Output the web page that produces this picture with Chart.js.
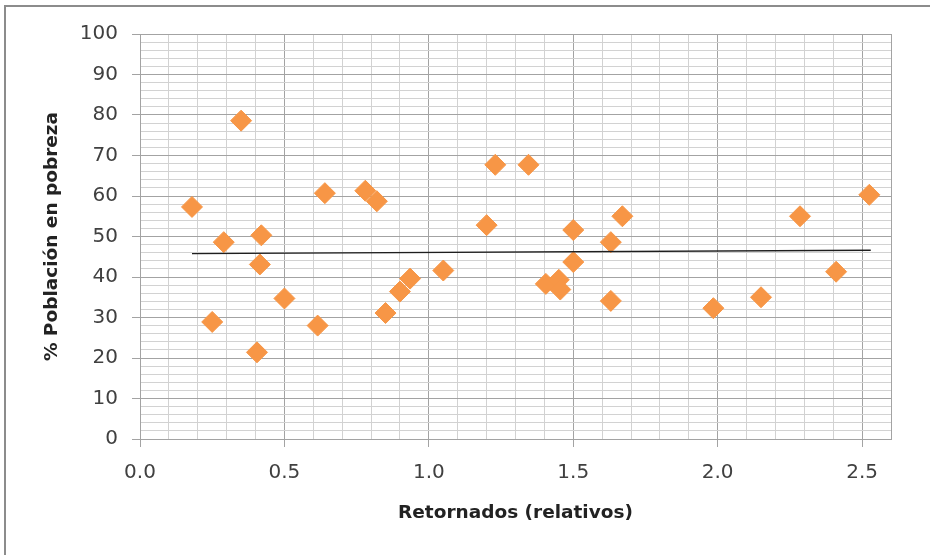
<!DOCTYPE html>
<html lang="es">
<head>
<meta charset="utf-8">
<title>Retornados y pobreza</title>
<script src="https://cdn.jsdelivr.net/npm/chart.js@4.4.1/dist/chart.umd.min.js"></script>
<style>
  html, body { margin: 0; padding: 0; background: #fff; overflow: hidden; }
  .frame {
    position: absolute; left: 4px; top: 5px; width: 1000px; height: 1000px;
    border-left: 2px solid #8c8c8c; border-top: 2px solid #8c8c8c;
  }
  #chart { position: absolute; left: 0; top: 0; }
</style>
</head>
<body>
<div class="frame"></div>
<canvas id="chart" width="930" height="555"></canvas>
<script>
// retornados relativos y % de población en pobreza, un punto por municipio
const retornados = [0.18, 0.25, 0.29, 0.35, 0.405, 0.415, 0.42, 0.50, 0.615, 0.64,
                    0.78, 0.82, 0.85, 0.90, 0.935, 1.05, 1.20, 1.23, 1.345, 1.405,
                    1.45, 1.455, 1.50, 1.50, 1.63, 1.63, 1.67, 1.985, 2.15, 2.285,
                    2.41, 2.525];
const pobreza = [57.3, 28.9, 48.6, 78.6, 21.4, 43.1, 50.3, 34.7, 28.0, 60.7,
                 61.3, 58.7, 31.1, 36.4, 39.6, 41.6, 52.8, 67.7, 67.7, 38.3,
                 39.3, 36.9, 51.6, 43.7, 48.6, 34.1, 55.0, 32.3, 35.0, 55.0,
                 41.3, 60.3];

// extremos de la línea de tendencia lineal
const tendenciaX = [0.18, 2.53];
const tendenciaY = [45.75, 46.6];

const xLabels = ['0.0', '0.5', '1.0', '1.5', '2.0', '2.5'];
const yLabels = ['0', '10', '20', '30', '40', '50', '60', '70', '80', '90', '100'];

const X_MAX = 2.6;

function labelFor(list, v) {
  const l = list.find(s => Math.abs(parseFloat(s) - v) < 1e-6);
  return l === undefined ? '' : l;
}

const MAJOR = '#a3a3a3';
const MINOR = '#d2d2d2';

function gridColor(list, edge) {
  return ctx => {
    const v = ctx.tick ? ctx.tick.value : 0;
    if (labelFor(list, v) !== '' || Math.abs(v - edge) < 1e-6) return MAJOR;
    return MINOR;
  };
}
function tickMarkColor(list) {
  return ctx => (ctx.tick && labelFor(list, ctx.tick.value) !== '') ? MAJOR : 'rgba(0,0,0,0)';
}

Chart.defaults.font.family = '"DejaVu Sans", sans-serif';

new Chart(document.getElementById('chart'), {
  data: {
    datasets: [
      {
        type: 'line',
        label: 'Tendencia',
        data: tendenciaX.map((x, i) => ({ x: x, y: tendenciaY[i] })),
        borderColor: '#1e1e1e',
        borderWidth: 1.3,
        pointRadius: 0,
        fill: false,
        order: 0
      },
      {
        type: 'scatter',
        label: 'Municipios',
        data: retornados.map((x, i) => ({ x: x, y: pobreza[i] })),
        pointStyle: 'rectRot',
        pointRadius: 10.5,
        pointHoverRadius: 10.5,
        backgroundColor: '#F79646',
        borderColor: '#F79646',
        borderWidth: 1,
        order: 1
      }
    ]
  },
  options: {
    responsive: false,
    devicePixelRatio: 1,
    animation: false,
    layout: { padding: { top: 34, right: 39, left: 0, bottom: 0 } },
    plugins: { legend: { display: false }, tooltip: { enabled: false } },
    scales: {
      x: {
        type: 'linear',
        min: 0,
        max: X_MAX,
        afterFit: s => { s.height = 116; },
        ticks: {
          stepSize: 0.1,
          autoSkip: false,
          maxRotation: 0,
          padding: 14,
          color: '#404040',
          font: { size: 20 },
          callback: v => labelFor(xLabels, v)
        },
        grid: {
          color: gridColor(xLabels, X_MAX),
          tickColor: tickMarkColor(xLabels),
          tickLength: 8,
          lineWidth: 1
        },
        border: { color: MAJOR },
        title: {
          display: true,
          text: 'Retornados (relativos)',
          color: '#222',
          font: { size: 18.5, weight: 'bold' },
          padding: { top: 0, bottom: 31 }
        }
      },
      y: {
        type: 'linear',
        min: 0,
        max: 100,
        afterFit: s => { s.width = 140; },
        ticks: {
          stepSize: 2,
          autoSkip: false,
          padding: 14,
          color: '#404040',
          font: { size: 20 },
          callback: v => labelFor(yLabels, v)
        },
        grid: {
          color: gridColor(yLabels, 100),
          tickColor: tickMarkColor(yLabels),
          tickLength: 8,
          lineWidth: 1
        },
        border: { color: MAJOR },
        title: {
          display: true,
          text: '% Población en pobreza',
          color: '#222',
          font: { size: 18.5, weight: 'bold' },
          padding: { top: 41, bottom: 0 }
        }
      }
    }
  }
});
</script>
</body>
</html>
